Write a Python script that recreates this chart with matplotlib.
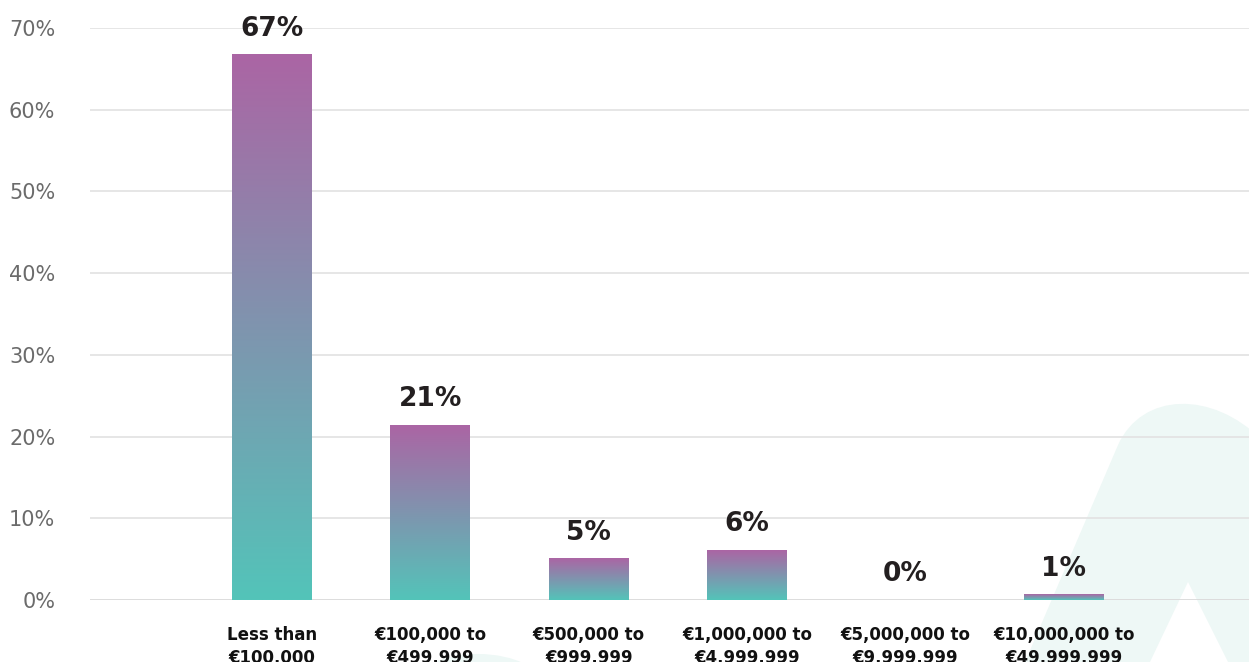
import numpy as np
import matplotlib
matplotlib.use("Agg")
import matplotlib.pyplot as plt
from matplotlib.path import Path
from matplotlib.patches import PathPatch, Circle
from matplotlib.colors import LinearSegmentedColormap

# tranches de chiffre d'affaires et part des répondants (%)
categories = ["Less than\n€100,000", "€100,000 to\n€499,999", "€500,000 to\n€999,999",
              "€1,000,000 to\n€4,999,999", "€5,000,000 to\n€9,999,999", "€10,000,000 to\n€49,999,999"]
parts = [66.7, 21.4, 5.1, 6.1, 0.0, 0.7]
yticks = [0, 10, 20, 30, 40, 50, 60, 70]

W, H = 1249, 662
fig = plt.figure(figsize=(W / 100, H / 100), dpi=100)
fig.patch.set_facecolor("white")

# forme décorative en fond (logo pâle)
def px(x, y):
    return (x / W, 1 - y / H)

fond = "#eef8f6"
verts = [px(1025, 662), px(1118, 445), px(1142, 392), px(1212, 390), px(1262, 440),
         px(1262, 662), px(1228, 662), px(1188, 582), px(1150, 662), px(1025, 662)]
codes = [Path.MOVETO, Path.LINETO, Path.CURVE4, Path.CURVE4, Path.CURVE4,
         Path.LINETO, Path.LINETO, Path.LINETO, Path.LINETO, Path.CLOSEPOLY]
fig.add_artist(PathPatch(Path(verts, codes), transform=fig.transFigure,
                         facecolor=fond, edgecolor="none", zorder=0))
fig.add_artist(Circle(px(478, 690), 68 / W, transform=fig.transFigure,
                      facecolor=fond, edgecolor="none", zorder=0))

ax = fig.add_axes([90 / W, 62 / H, 1159 / W, 572 / H])
ax.set_zorder(1)
ax.patch.set_alpha(0)

x = np.arange(len(categories))
barres = ax.bar(x, parts, width=0.505, color="none", zorder=2)

# dégradé violet (haut) -> turquoise (bas) dans chaque barre
cmap = LinearSegmentedColormap.from_list("grad", ["#53c4b9", "#ab65a4"])
grad = np.linspace(0, 1, 256).reshape(-1, 1)
for b in barres:
    if b.get_height() <= 0:
        continue
    x0, w, h = b.get_x(), b.get_width(), b.get_height()
    ax.imshow(grad, extent=[x0, x0 + w, 0, h], origin="lower", aspect="auto",
              cmap=cmap, zorder=2, interpolation="bilinear")

for xi, v in zip(x, parts):
    ax.annotate(f"{v:.0f}%", (xi, v), xytext=(0, 13.5), textcoords="offset points",
                ha="center", va="baseline", fontsize=19, fontweight="heavy",
                color="#231f20", annotation_clip=False)

ax.set_xlim(-1.149, 6.168)
ax.set_ylim(0, 70)
ax.set_yticks(yticks)
ax.set_yticklabels([f"{t}%" for t in yticks])
ax.set_xticks(x)
ax.set_xticklabels(categories, fontsize=12, fontweight="bold", color="#111111", linespacing=1.35)
ax.tick_params(axis="y", length=0, pad=25, labelsize=15, labelcolor="#6b6b6b")
ax.tick_params(axis="x", length=0, pad=19)
for s in ax.spines.values():
    s.set_visible(False)
ax.grid(axis="y", color="#e2e2e2", linewidth=1.2, zorder=0)
ax.set_axisbelow(True)
ax.axhline(0, color="#dcdcdc", linewidth=2, zorder=1)

fig.savefig("out.png", dpi=100)
